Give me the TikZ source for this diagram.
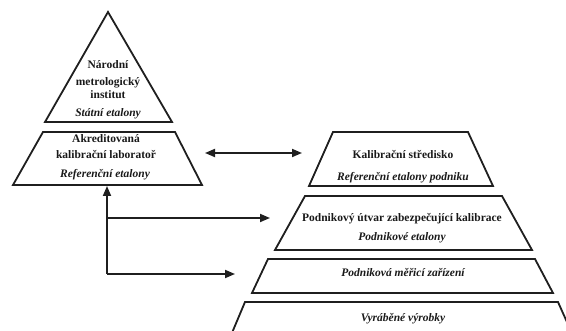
\documentclass[tikz,border=0pt]{standalone}
\usepackage{fontspec}
\setmainfont{Liberation Serif}
\usetikzlibrary{arrows.meta}
\begin{document}
\begin{tikzpicture}[x=1pt,y=-1pt,
  layer/.style={draw=black!88, line width=1.8pt, line join=miter},
  bt/.style={font=\bfseries\fontsize{11.5}{13}\selectfont, anchor=base, inner sep=0pt, text=black!90},
  it/.style={font=\bfseries\itshape\fontsize{11.5}{13}\selectfont, anchor=base, inner sep=0pt, text=black!90},
  conn/.style={draw=black!88, line width=1.8pt, line join=miter},
  tipend/.style={-{Triangle[length=10pt,width=8pt]}},
  tipboth/.style={{Triangle[length=10pt,width=8pt]}-{Triangle[length=10pt,width=8pt]}}]
\clip (0,0) rectangle (566,331);
% left pyramid
\draw[layer] (45,122) -- (108,12) -- (172,122) -- cycle;
\draw[layer] (43,132) -- (175,132) -- (202,185) -- (13,185) -- cycle;
% right pyramid
\draw[layer] (333,132) -- (468,132) -- (493,186) -- (309,186) -- cycle;
\draw[layer] (305,196) -- (502,196) -- (532,250) -- (275,250) -- cycle;
\draw[layer] (268,259) -- (535,259) -- (553,293) -- (252,293) -- cycle;
\draw[layer] (229,340) -- (245,302) -- (558,302) -- (575,340);
% texts
\node[bt] (nmi1) at (108,69) {Národní};
\node[bt] (nmi2) at (108,86) {metrologický};
\node[bt] (nmi3) at (108,99) {institut};
\node[it] (nmi4) at (108,117) {Státní etalony};
\node[bt] (akl1) at (106,143) {Akreditovaná};
\node[bt] (akl2) at (106,159) {kalibrační laboratoř};
\node[it] (akl3) at (105,178) {Referenční etalony};
\node[bt] (ks1) at (403,159) {Kalibrační středisko};
\node[it] (ks2) at (403,181) {Referenční etalony podniku};
\node[bt] (pu1) at (402,222) {Podnikový útvar zabezpečující kalibrace};
\node[it] (pu2) at (402,241) {Podnikové etalony};
\node[it] (pm) at (403,277) {Podniková měřicí zařízení};
\node[it] (vv) at (403,322) {Vyráběné výrobky};
% connectors
\coordinate (dl) at (205,153);
\coordinate (dr) at (302,153);
\coordinate (up) at (107,186);
\coordinate (j1) at (107,218);
\coordinate (j2) at (107,274);
\coordinate (e1) at (270,218);
\coordinate (e2) at (235,274);
\draw[conn,tipboth] (dl) -- (dr);
\draw[conn,tipend] (j2) -- (up);
\draw[conn,tipend] (j1) -- (e1);
\draw[conn,tipend] (j2) -- (e2);
\end{tikzpicture}
\end{document}
